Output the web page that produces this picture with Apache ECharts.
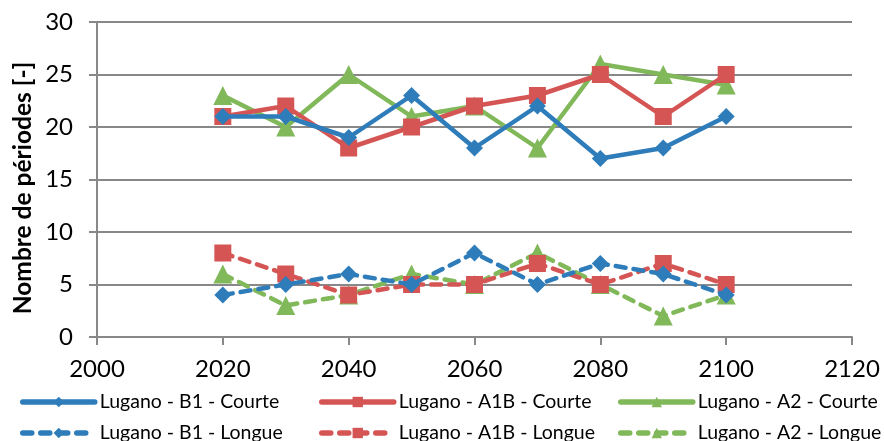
<!DOCTYPE html>
<html><head><meta charset="utf-8">
<script src="https://cdn.jsdelivr.net/npm/echarts@6/dist/echarts.min.js"></script>
<style>html,body{margin:0;padding:0;background:#fff}#c{width:884px;height:441px}</style>
</head><body><div id="c"></div>
<script>
const years = [2020, 2030, 2040, 2050, 2060, 2070, 2080, 2090, 2100];
const b1Courte  = [21, 21, 19, 23, 18, 22, 17, 18, 21];
const a1bCourte = [21, 22, 18, 20, 22, 23, 25, 21, 25];
const a2Courte  = [23, 20, 25, 21, 22, 18, 26, 25, 24];
const b1Longue  = [4, 5, 6, 5, 8, 5, 7, 6, 4];
const a1bLongue = [8, 6, 4, 5, 5, 7, 5, 7, 5];
const a2Longue  = [6, 3, 4, 6, 5, 8, 5, 2, 4];
const names = ['Lugano - B1 - Courte','Lugano - A1B - Courte','Lugano - A2 - Courte',
               'Lugano - B1 - Longue','Lugano - A1B - Longue','Lugano - A2 - Longue'];
const yTitle = 'Nombre de périodes [-]';
const seriesData = [b1Courte, a1bCourte, a2Courte, b1Longue, a1bLongue, a2Longue];
const colors = ['#2e7dba','#d55555','#80b85a','#2e7dba','#d55555','#80b85a'];
const symbols = ['diamond','rect','triangle','diamond','rect','triangle'];
const symSizes = [17, 17, 19, 17, 17, 19];
const font = 'Lato, sans-serif';

const series = seriesData.map((d, i) => ({
  name: names[i], type: 'line',
  data: d.map((v, j) => [years[j], v]),
  symbol: symbols[i], symbolSize: symSizes[i],
  showAllSymbol: true,
  itemStyle: { color: colors[i] },
  lineStyle: { color: colors[i], width: 4.5, type: i >= 3 ? [10, 8] : 'solid', cap: 'round' },
  z: 10 - i
}));

const legendPos = [[15, 387],[314, 387],[613, 387],[15, 418],[314, 418],[613, 418]];
const legends = names.map((n, i) => ({
  data: [n], left: legendPos[i][0], top: legendPos[i][1],
  itemWidth: 72, itemHeight: 13, itemGap: 6,
  lineStyle: { width: 5.5, type: i >= 3 ? [9, 9] : 'solid', cap: 'round' },
  textStyle: { fontFamily: font, fontSize: 19.5, color: '#000' }
}));

const chart = echarts.init(document.getElementById('c'));
chart.setOption({
  animation: false,
  grid: { left: 97, right: 32, top: 22, bottom: 104 },
  legend: legends,
  graphic: [{
    type: 'text', x: 23, y: 188, rotation: Math.PI / 2,
    style: { text: yTitle, font: 'bold 24.5px Lato, sans-serif', fill: '#000',
             textAlign: 'center', textVerticalAlign: 'middle' }
  }],
  xAxis: {
    type: 'value', min: 2000, max: 2120, interval: 20,
    axisLine: { lineStyle: { color: '#888', width: 2 } },
    axisTick: { show: true, length: 8, lineStyle: { color: '#888', width: 2 } },
    splitLine: { show: false },
    axisLabel: { fontFamily: font, fontSize: 24, color: '#000', margin: 20, formatter: v => String(v) }
  },
  yAxis: {
    type: 'value', min: 0, max: 30, interval: 5,
    axisLine: { show: true, lineStyle: { color: '#888', width: 2 } },
    axisTick: { show: true, length: 8, lineStyle: { color: '#888', width: 2 } },
    splitLine: { lineStyle: { color: '#888', width: 2 } },
    axisLabel: { fontFamily: font, fontSize: 24, color: '#000', margin: 24 }
  },
  series
});
</script></body></html>
